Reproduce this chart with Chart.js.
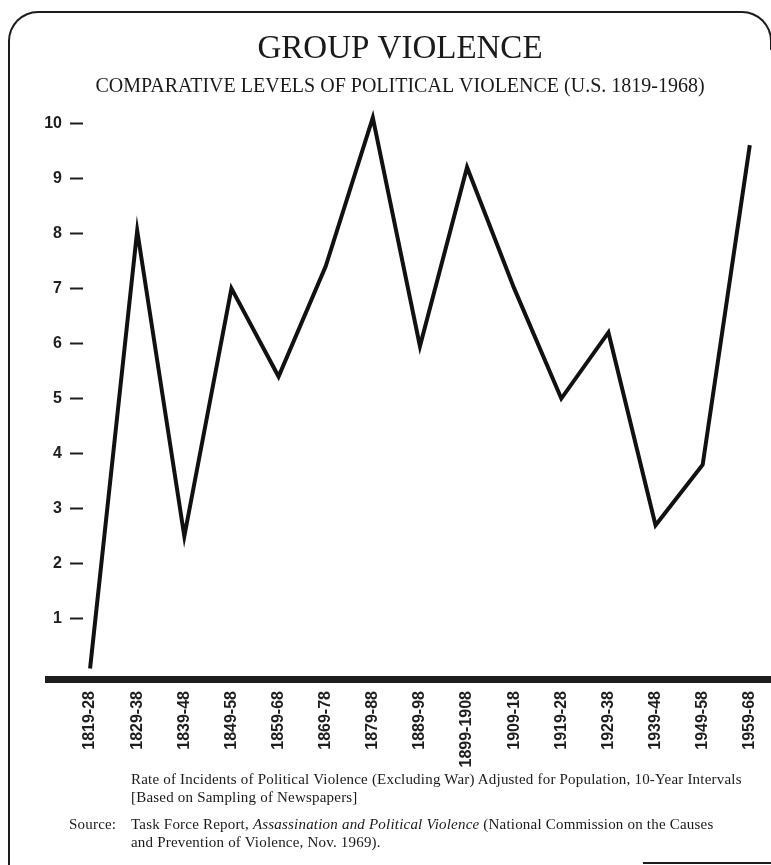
<!DOCTYPE html>
<html>
<head>
<meta charset="utf-8">
<script src="https://cdn.jsdelivr.net/npm/chart.js@4/dist/chart.umd.min.js"></script>
<style>
    body { margin: 0; background: #fff; }
    #wrap { position: relative; width: 771px; height: 865px; overflow: hidden; }
    #frame {
        position: absolute; left: 8px; top: 11px; width: 760px; height: 900px;
        border: 2px solid #1c1c1c; border-bottom: none;
        border-radius: 30px 30px 0 0;
    }
    #frameCover { position: absolute; left: 764px; top: 50px; width: 7px; height: 815px; background: #fff; }
    #bottomLine { position: absolute; left: 643px; top: 862px; width: 128px; height: 2px; background: #1c1c1c; }
    .note {
        position: absolute; font-family: "Liberation Serif", serif; font-size: 15px;
        letter-spacing: 0.2px; line-height: 18px; color: #1a1a1a; white-space: nowrap;
    }
</style>
</head>
<body>
<div id="wrap">
    <div id="frame"></div>
    <div id="frameCover"></div>
    <canvas id="violenceChart" width="771" height="865" style="position:absolute;left:0;top:0;"></canvas>
    <div class="note" style="left:131px; top:770px;">
        Rate of Incidents of Political Violence (Excluding War) Adjusted for Population, 10-Year Intervals<br>
        [Based on Sampling of Newspapers]
    </div>
    <div class="note" style="left:69px; top:815px;">Source:</div>
    <div class="note" style="left:131px; top:815px;">
        Task Force Report, <i>Assassination and Political Violence</i> (National Commission on the Causes<br>
        and Prevention of Violence, Nov. 1969).
    </div>
    <div id="bottomLine"></div>
</div>

<script>
// Data
const periods = ["1819-28", "1829-38", "1839-48", "1849-58", "1859-68", "1869-78", "1879-88", "1889-98",
    "1899-1908", "1909-18", "1919-28", "1929-38", "1939-48", "1949-58", "1959-68"];
const violenceLevels = [0.1, 8.05, 2.5, 7.0, 5.4, 7.4, 10.1, 5.95, 9.2, 7.0, 5.0, 6.2, 2.7, 3.8, 9.6];
const yTicks = [1, 2, 3, 4, 5, 6, 7, 8, 9, 10];

const titleText = "GROUP VIOLENCE";
const subtitleText = "COMPARATIVE LEVELS OF POLITICAL VIOLENCE (U.S. 1819-1968)";

// thick dark baseline under the plot
const baselinePlugin = {
    id: 'baseline',
    beforeDatasetsDraw(chart) {
        const ctx = chart.ctx;
        const y0 = chart.scales.y.getPixelForValue(0);
        ctx.save();
        ctx.fillStyle = '#1e1e1e';
        ctx.fillRect(45, y0 + 2, chart.width - 45, 7);
        ctx.restore();
    }
};

const ctx = document.getElementById('violenceChart').getContext('2d');
new Chart(ctx, {
    type: 'line',
    data: {
        datasets: [{
            data: violenceLevels.map((v, i) => ({ x: i, y: v })),
            borderColor: '#111',
            borderWidth: 4,
            pointRadius: 0,
            tension: 0,
            fill: false
        }]
    },
    options: {
        responsive: false,
        animation: false,
        layout: { padding: { left: 29, right: 0, top: 0, bottom: 91 } },
        plugins: {
            legend: { display: false },
            tooltip: { enabled: false },
            title: {
                display: true,
                text: titleText,
                color: '#1a1a1a',
                font: { family: 'Liberation Serif', size: 33, weight: 'normal' },
                padding: { top: 30, bottom: 3 }
            },
            subtitle: {
                display: true,
                text: subtitleText,
                color: '#1a1a1a',
                font: { family: 'Liberation Serif', size: 20, weight: 'normal' },
                padding: { top: 2, bottom: 8 }
            }
        },
        scales: {
            x: {
                type: 'linear',
                min: -0.15,
                max: 14.45,
                afterBuildTicks: scale => { scale.ticks = periods.map((p, i) => ({ value: i })); },
                afterFit: scale => { scale.height = 100; },
                grid: { display: false, drawTicks: true, tickLength: 17 },
                border: { display: false },
                ticks: {
                    autoSkip: false,
                    minRotation: 90,
                    maxRotation: 90,
                    padding: 0,
                    color: '#1e1e1e',
                    font: { family: 'Liberation Sans', size: 16, weight: 'bold' },
                    callback: value => periods[value]
                }
            },
            y: {
                min: 0,
                max: 10.3,
                afterFit: scale => { scale.width = 54; },
                afterBuildTicks: scale => { scale.ticks = yTicks.map(v => ({ value: v })); },
                grid: {
                    drawOnChartArea: false,
                    drawTicks: true,
                    tickLength: 13,
                    tickWidth: 2,
                    tickColor: '#1e1e1e'
                },
                border: { display: false },
                ticks: {
                    padding: 8,
                    color: '#1e1e1e',
                    font: { family: 'Liberation Sans', size: 16, weight: 'bold' }
                }
            }
        }
    },
    plugins: [baselinePlugin]
});
</script>
</body>
</html>
